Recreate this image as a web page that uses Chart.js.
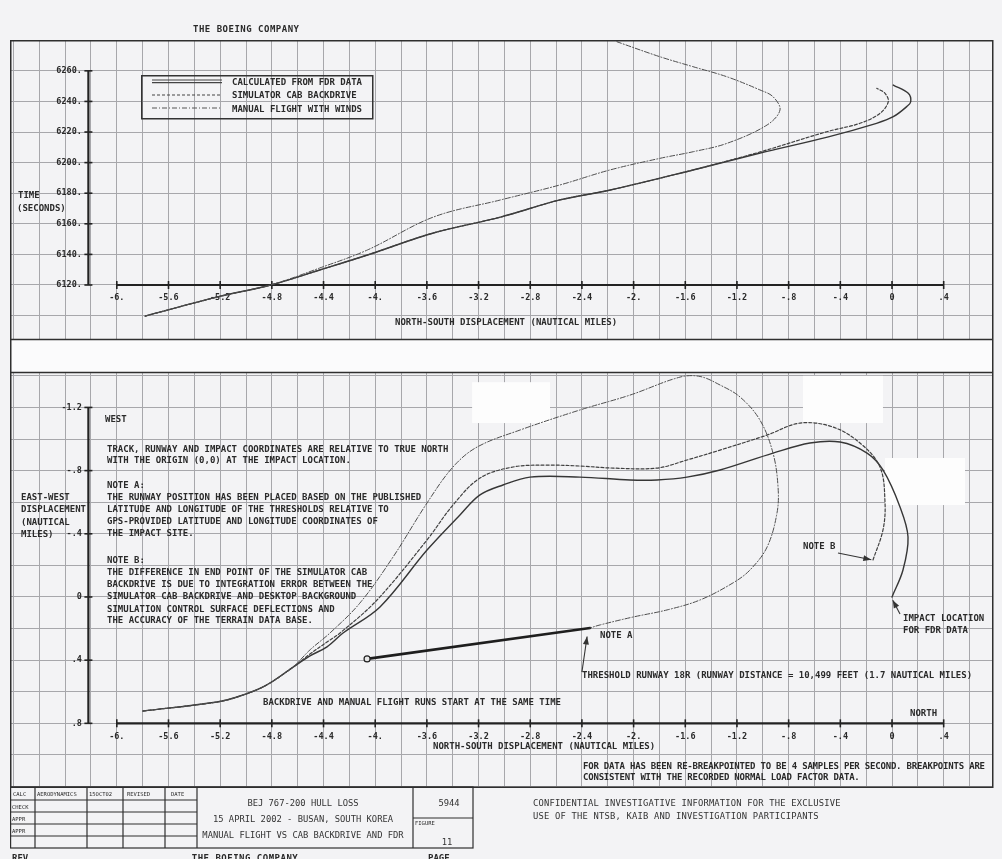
<!DOCTYPE html>
<html><head><meta charset="utf-8">
<script src="https://cdn.jsdelivr.net/npm/chart.js@4.4.1/dist/chart.umd.min.js"></script>
<style>
html,body{margin:0;padding:0;}
body{width:1002px;height:859px;position:relative;background:#f3f3f5;overflow:hidden;}
canvas{position:absolute;}
#ov{position:absolute;left:0;top:0;pointer-events:none;}
#ov text{font-family:"DejaVu Sans Mono","Liberation Mono",monospace;font-size:9px;font-weight:bold;fill:#2a2a2a;}
#ov text.sm{font-size:5.5px;font-weight:normal;}
#ov text.tb{font-weight:normal;font-size:8.8px;fill:#333;}
</style></head>
<body>
<canvas id="cTop" width="981" height="298" style="left:11px;top:41px"></canvas>
<canvas id="cBot" width="981" height="414" style="left:11px;top:373px"></canvas>
<svg id="ov" width="1002" height="859" viewBox="0 0 1002 859">
  <!-- band between the two plots -->
  <rect x="10" y="339" width="983" height="34" fill="#fbfbfc"/>
  <line x1="10" y1="339.5" x2="993" y2="339.5" stroke="#2f2f2f" stroke-width="1.5"/>
  <line x1="10" y1="372.5" x2="993" y2="372.5" stroke="#2f2f2f" stroke-width="1.5"/>
  <!-- frame -->
  <rect x="10.75" y="40.75" width="982" height="746.5" fill="none" stroke="#2f2f2f" stroke-width="1.5"/>
  <!-- legend -->
  <rect x="141.75" y="75.75" width="231" height="43" fill="none" stroke="#333" stroke-width="1.5"/>
  <line x1="152" y1="80" x2="222" y2="80" stroke="#444" stroke-width="1.2"/>
  <line x1="152" y1="82.6" x2="222" y2="82.6" stroke="#444" stroke-width="1.2"/>
  <line x1="152" y1="95" x2="222" y2="95" stroke="#444" stroke-width="1.2" stroke-dasharray="3,2"/>
  <line x1="152" y1="108" x2="222" y2="108" stroke="#555" stroke-width="1" stroke-dasharray="5,2,1,2"/>
  <text x="232" y="84.5">CALCULATED FROM FDR DATA</text>
  <text x="232" y="98.3">SIMULATOR CAB BACKDRIVE</text>
  <text x="232" y="111.5">MANUAL FLIGHT WITH WINDS</text>
  <!-- top texts -->
  <text x="193" y="32.3" letter-spacing="0.5">THE BOEING COMPANY</text>
  <text x="18" y="198.3">TIME</text>
  <text x="17" y="211.3">(SECONDS)</text>
  <text x="395" y="325.3">NORTH-SOUTH DISPLACEMENT (NAUTICAL MILES)</text>
  <!-- bottom texts -->
  <text x="105" y="422.3">WEST</text>
  <text x="107" y="451.6">TRACK, RUNWAY AND IMPACT COORDINATES ARE RELATIVE TO TRUE NORTH</text>
  <text x="107" y="463.3">WITH THE ORIGIN (0,0) AT THE IMPACT LOCATION.</text>
  <text x="107" y="488.3">NOTE A:</text>
  <text x="107" y="500">THE RUNWAY POSITION HAS BEEN PLACED BASED ON THE PUBLISHED</text>
  <text x="107" y="511.6">LATITUDE AND LONGITUDE OF THE THRESHOLDS RELATIVE TO</text>
  <text x="107" y="524">GPS-PROVIDED LATITUDE AND LONGITUDE COORDINATES OF</text>
  <text x="107" y="536">THE IMPACT SITE.</text>
  <text x="107" y="563.3">NOTE B:</text>
  <text x="107" y="575">THE DIFFERENCE IN END POINT OF THE SIMULATOR CAB</text>
  <text x="107" y="586.6">BACKDRIVE IS DUE TO INTEGRATION ERROR BETWEEN THE</text>
  <text x="107" y="599">SIMULATOR CAB BACKDRIVE AND DESKTOP BACKGROUND</text>
  <text x="107" y="611.6">SIMULATION CONTROL SURFACE DEFLECTIONS AND</text>
  <text x="107" y="623.3">THE ACCURACY OF THE TERRAIN DATA BASE.</text>
  <text x="21" y="500.3">EAST-WEST</text>
  <text x="21" y="512.3">DISPLACEMENT</text>
  <text x="21" y="525.3">(NAUTICAL</text>
  <text x="21" y="537.3">MILES)</text>
  <text x="263" y="705.3">BACKDRIVE AND MANUAL FLIGHT RUNS START AT THE SAME TIME</text>
  <text x="600" y="638.3">NOTE A</text>
  <text x="582" y="678.3">THRESHOLD RUNWAY 18R (RUNWAY DISTANCE = 10,499 FEET (1.7 NAUTICAL MILES)</text>
  <text x="803" y="549.3">NOTE B</text>
  <text x="903" y="621.3">IMPACT LOCATION</text>
  <text x="903" y="633.3">FOR FDR DATA</text>
  <text x="910" y="716.3">NORTH</text>
  <text x="433" y="749.3">NORTH-SOUTH DISPLACEMENT (NAUTICAL MILES)</text>
  <text x="583" y="769.3" letter-spacing="-0.2">FOR DATA HAS BEEN RE-BREAKPOINTED TO BE 4 SAMPLES PER SECOND.  BREAKPOINTS ARE</text>
  <text x="583" y="780.3" letter-spacing="-0.2">CONSISTENT WITH THE RECORDED NORMAL LOAD FACTOR DATA.</text>
  <!-- title block -->
  <g stroke="#2f2f2f" stroke-width="1.2" fill="none">
    <rect x="10.6" y="787" width="462.4" height="61"/>
    <line x1="35" y1="787" x2="35" y2="848"/>
    <line x1="87" y1="787" x2="87" y2="848"/>
    <line x1="123" y1="787" x2="123" y2="848"/>
    <line x1="165" y1="787" x2="165" y2="848"/>
    <line x1="197" y1="787" x2="197" y2="848"/>
    <line x1="413" y1="787" x2="413" y2="848"/>
    <line x1="10" y1="800" x2="197" y2="800"/>
    <line x1="10" y1="812" x2="197" y2="812"/>
    <line x1="10" y1="824" x2="197" y2="824"/>
    <line x1="10" y1="836" x2="197" y2="836"/>
    <line x1="413" y1="818" x2="473" y2="818"/>
  </g>
  <text class="sm" x="13" y="796">CALC</text>
  <text class="sm" x="37" y="796">AERODYNAMICS</text>
  <text class="sm" x="89" y="796">15OCT02</text>
  <text class="sm" x="127" y="796">REVISED</text>
  <text class="sm" x="171" y="796">DATE</text>
  <text class="sm" x="12" y="808.5">CHECK</text>
  <text class="sm" x="12" y="820.5">APPR</text>
  <text class="sm" x="12" y="832.5">APPR</text>
  <text class="tb" x="303" y="806" text-anchor="middle">BEJ 767-200 HULL LOSS</text>
  <text class="tb" x="303" y="822" text-anchor="middle">15 APRIL 2002 - BUSAN, SOUTH KOREA</text>
  <text class="tb" x="303" y="838" text-anchor="middle">MANUAL FLIGHT VS CAB BACKDRIVE AND FDR</text>
  <text class="tb" x="449" y="806" text-anchor="middle">5944</text>
  <text class="sm" x="415" y="825">FIGURE</text>
  <text class="tb" x="447" y="845" text-anchor="middle">11</text>
  <text x="12" y="861">REV</text>
  <text x="245" y="861" text-anchor="middle" letter-spacing="0.5">THE BOEING COMPANY</text>
  <text x="428" y="861">PAGE</text>
  <text class="tb" x="533" y="806" letter-spacing="0.2">CONFIDENTIAL INVESTIGATIVE INFORMATION FOR THE EXCLUSIVE</text>
  <text class="tb" x="533" y="819" letter-spacing="0.2">USE OF THE NTSB, KAIB AND INVESTIGATION PARTICIPANTS</text>
</svg>
<script>
// ---------- tick labels ----------
const nsTickValues = [-6,-5.6,-5.2,-4.8,-4.4,-4,-3.6,-3.2,-2.8,-2.4,-2,-1.6,-1.2,-0.8,-0.4,0,0.4];
const nsTickLabels = ['-6.','-5.6','-5.2','-4.8','-4.4','-4.','-3.6','-3.2','-2.8','-2.4','-2.','-1.6','-1.2','-.8','-.4','0','.4'];
const timeTickValues = [6120,6140,6160,6180,6200,6220,6240,6260];
const timeTickLabels = ['6120.','6140.','6160.','6180.','6200.','6220.','6240.','6260.'];
const ewTickValues = [-1.2,-0.8,-0.4,0,0.4,0.8];
const ewTickLabels = ['-1.2','-.8','-.4','0','.4','.8'];

const seriesNames = ['CALCULATED FROM FDR DATA','SIMULATOR CAB BACKDRIVE','MANUAL FLIGHT WITH WINDS','RUNWAY 18R'];

// ---------- top plot: time (s) vs north-south displacement (nm) ----------
const fdrTopNS   = [-5.78,-5.22,-4.81,-4.43,-4.06,-3.55,-3.03,-2.57,-2.18,-1.54,-1.02,-0.50,-0.12,0.01,0.114,0.145,0.126,0.01];
const fdrTopTime = [6099.7,6112.2,6120.0,6129.8,6139.6,6154.0,6164.4,6175.6,6182.1,6195.2,6206.3,6216.7,6225.7,6230.0,6236.6,6239.8,6245.3,6250.7];
const simTopNS   = [-5.78,-5.22,-4.81,-4.43,-4.06,-3.55,-3.03,-2.57,-2.18,-1.54,-1.02,-0.505,-0.248,-0.093,-0.029,-0.054,-0.118];
const simTopTime = [6099.7,6112.2,6120.0,6129.8,6139.6,6154.0,6164.4,6175.6,6182.1,6195.2,6207.0,6220.2,6225.7,6232.2,6239.8,6245.3,6248.6];
const manTopNS   = [-5.78,-5.22,-4.81,-4.43,-4.06,-3.55,-3.03,-2.57,-2.183,-1.796,-1.540,-1.277,-0.967,-0.867,-0.921,-1.022,-1.277,-1.540,-1.796,-2.129];
const manTopTime = [6099.7,6112.2,6120.0,6131.1,6142.9,6164.4,6175.6,6185.4,6195.2,6202.8,6207.1,6212.6,6224.6,6234.4,6243.1,6247.5,6256.1,6262.7,6269.2,6279.0];

// ---------- bottom plot: east-west vs north-south displacement (nm) ----------
const fdrBotNS = [-5.797,-5.224,-5.046,-4.853,-4.644,-4.505,-4.373,-4.249,-3.963,-3.599,-3.344,-3.189,-3.011,-2.802,-2.415,-2.028,-1.819,-1.587,-1.331,-0.921,-0.635,-0.402,-0.193,-0.070,0.062,0.124,0.085,0.0];
const fdrBotEW = [0.722,0.665,0.627,0.563,0.449,0.373,0.316,0.228,0.063,-0.297,-0.519,-0.646,-0.709,-0.759,-0.759,-0.741,-0.741,-0.759,-0.804,-0.911,-0.975,-0.981,-0.911,-0.804,-0.570,-0.380,-0.171,0.0];
const simBotNS = [-5.797,-5.224,-5.046,-4.853,-4.644,-4.505,-4.373,-4.272,-3.986,-3.599,-3.398,-3.189,-2.933,-2.670,-2.415,-2.159,-1.819,-1.587,-1.331,-0.967,-0.712,-0.457,-0.248,-0.093,-0.054,-0.070,-0.147];
const simBotEW = [0.722,0.665,0.627,0.563,0.449,0.361,0.285,0.228,0.019,-0.361,-0.582,-0.753,-0.823,-0.835,-0.829,-0.816,-0.816,-0.867,-0.930,-1.025,-1.101,-1.076,-0.975,-0.823,-0.595,-0.424,-0.234];
const manBotNS = [-5.797,-5.224,-5.046,-4.853,-4.644,-4.505,-4.350,-4.118,-3.862,-3.599,-3.398,-3.212,-2.879,-2.415,-2.028,-1.641,-1.486,-1.331,-1.176,-1.022,-0.921,-0.882,-0.890,-0.967,-1.099,-1.231,-1.486,-1.741,-2.005,-2.260,-2.337];
const manBotEW = [0.722,0.665,0.627,0.563,0.449,0.335,0.228,0.038,-0.253,-0.595,-0.823,-0.949,-1.057,-1.184,-1.278,-1.392,-1.396,-1.342,-1.266,-1.120,-0.911,-0.696,-0.532,-0.316,-0.171,-0.089,0.019,0.082,0.127,0.177,0.196];
const runwayNS = [-4.063,-2.337];
const runwayEW = [0.392,0.196];

// annotation arrows (data units: [ns, ew])
const noteArrows = [
  {from:[-2.40,0.475], to:[-2.36,0.25]},
  {from:[-0.418,-0.278], to:[-0.16,-0.236]},
  {from:[0.062,0.108], to:[0.006,0.02]}
];
// scan blanks (data units: ns0, ns1, ew0, ew1)
const scanBlanks = [[-3.25,-2.647,-1.36,-1.101],[-0.689,-0.07,-1.40,-1.101],[-0.054,0.565,-0.88,-0.582]];

// ---------- helpers ----------
const GRID = '#a7a7ab';
const TICK_FONT = {family:'DejaVu Sans Mono', size:8.5, weight:'bold'};
Chart.defaults.font.family = 'DejaVu Sans Mono';

function gridTicks(min, max, step){
  const out = [];
  for (let k = Math.ceil(min/step - 1e-9); k*step <= max + 1e-9; k++) out.push({value: +(k*step).toFixed(6)});
  return out;
}
function labelFor(vals, labs, v){
  const i = vals.findIndex(a => Math.abs(a - v) < 1e-6);
  return i < 0 ? '' : labs[i];
}
function scaleCfg(min, max, step, pos, tv, tl, pad, reverse){
  return {
    type:'linear', min, max, reverse: !!reverse, position: pos,
    afterBuildTicks: s => { s.ticks = gridTicks(min, max, step); },
    afterFit: s => { s.paddingLeft = 0; s.paddingRight = 0; s.paddingTop = 0; s.paddingBottom = 0; },
    grid: {color: GRID, lineWidth: 1, drawTicks: false},
    border: {display: false},
    ticks: {autoSkip:false, maxRotation:0, minRotation:0, padding: pad, color:'#2a2a2a', font: TICK_FONT,
      callback: v => labelFor(tv, tl, v)}
  };
}
function series(label, ns, vals, style){
  return Object.assign({label, data: ns.map((v,i) => ({x:v, y:vals[i]})), showLine:true, fill:false,
    pointRadius:0, tension:0.35, borderCapStyle:'round', borderJoinStyle:'round'}, style);
}
const STY = {
  fdr: {borderColor:'#363636', borderWidth:1.4},
  sim: {borderColor:'#404040', borderWidth:1.2, borderDash:[3,2]},
  man: {borderColor:'#4e4e4e', borderWidth:1.0, borderDash:[5,2,1,2]}
};
function axesPlugin(cfg){
  return {
    id: 'paperAxes',
    beforeDatasetsDraw(chart){
      const {ctx, scales:{x, y}} = chart;
      ctx.save();
      (cfg.blanks || []).forEach(b => {
        const x0 = x.getPixelForValue(b[0]), x1 = x.getPixelForValue(b[1]);
        const y0 = y.getPixelForValue(b[2]), y1 = y.getPixelForValue(b[3]);
        ctx.fillStyle = '#fdfdfd';
        ctx.fillRect(Math.min(x0,x1), Math.min(y0,y1), Math.abs(x1-x0), Math.abs(y1-y0));
      });
      ctx.strokeStyle = '#222'; ctx.lineCap = 'butt';
      const ln = (a,b,c,d) => { ctx.beginPath(); ctx.moveTo(a,b); ctx.lineTo(c,d); ctx.stroke(); };
      const ya = y.getPixelForValue(cfg.xAxisAt);
      const xa = x.getPixelForValue(cfg.yAxisAt);
      ctx.lineWidth = 2.2;
      ln(x.getPixelForValue(cfg.xFrom), ya, x.getPixelForValue(cfg.xTo), ya);
      ln(xa, y.getPixelForValue(cfg.yFrom), xa, y.getPixelForValue(cfg.yTo));
      ctx.lineWidth = 1.6;
      cfg.xTicks.forEach(v => { const p = x.getPixelForValue(v); ln(p, ya-4, p, ya+4); });
      cfg.yTicks.forEach(v => { const p = y.getPixelForValue(v); ln(xa-4, p, xa+4, p); });
      ctx.restore();
    },
    afterDatasetsDraw(chart){
      const {ctx, scales:{x, y}} = chart;
      ctx.save();
      ctx.strokeStyle = '#333'; ctx.fillStyle = '#333'; ctx.lineWidth = 1.1;
      (cfg.arrows || []).forEach(a => {
        const x0 = x.getPixelForValue(a.from[0]), y0 = y.getPixelForValue(a.from[1]);
        const x1 = x.getPixelForValue(a.to[0]), y1 = y.getPixelForValue(a.to[1]);
        ctx.beginPath(); ctx.moveTo(x0,y0); ctx.lineTo(x1,y1); ctx.stroke();
        const ang = Math.atan2(y1-y0, x1-x0), L = 8, W = 3;
        ctx.beginPath(); ctx.moveTo(x1,y1);
        ctx.lineTo(x1 - L*Math.cos(ang) + W*Math.sin(ang), y1 - L*Math.sin(ang) - W*Math.cos(ang));
        ctx.lineTo(x1 - L*Math.cos(ang) - W*Math.sin(ang), y1 - L*Math.sin(ang) + W*Math.cos(ang));
        ctx.closePath(); ctx.fill();
      });
      ctx.restore();
    }
  };
}
const baseOpts = {
  responsive:false, maintainAspectRatio:false, animation:false, events:[],
  layout:{padding:0, autoPadding:false},
  plugins:{legend:{display:false}, tooltip:{enabled:false}, title:{display:false}}
};

// ---------- top chart ----------
new Chart(document.getElementById('cTop'), {
  type:'scatter',
  data:{datasets:[
    series(seriesNames[2], manTopNS, manTopTime, STY.man),
    series(seriesNames[1], simTopNS, simTopTime, STY.sim),
    series(seriesNames[0], fdrTopNS, fdrTopTime, STY.fdr)
  ]},
  options: Object.assign({}, baseOpts, {
    scales:{
      x: scaleCfg(-6.819, 0.774, 0.2, {y:6120}, nsTickValues, nsTickLabels, 8),
      y: scaleCfg(6084.7, 6279.5, 20, {x:-6.27}, timeTickValues, timeTickLabels, 0)
    }
  }),
  plugins:[axesPlugin({xAxisAt:6120, yAxisAt:-6.22, xFrom:-6, xTo:0.4, yFrom:6120, yTo:6260,
    xTicks:nsTickValues, yTicks:timeTickValues})]
});

// ---------- bottom chart ----------
new Chart(document.getElementById('cBot'), {
  type:'scatter',
  data:{datasets:[
    series(seriesNames[2], manBotNS, manBotEW, STY.man),
    series(seriesNames[1], simBotNS, simBotEW, STY.sim),
    series(seriesNames[0], fdrBotNS, fdrBotEW, STY.fdr),
    Object.assign(series(seriesNames[3], runwayNS, runwayEW, {borderColor:'#1e1e1e', borderWidth:2.6}), {
      tension:0, pointRadius:[3,0], pointBackgroundColor:'#e8e8e8', pointBorderColor:'#222', pointBorderWidth:1.2
    })
  ]},
  options: Object.assign({}, baseOpts, {
    scales:{
      x: scaleCfg(-6.819, 0.774, 0.2, {y:0.8}, nsTickValues, nsTickLabels, 8),
      y: scaleCfg(-1.418, 1.203, 0.2, {x:-6.27}, ewTickValues, ewTickLabels, 0, true)
    }
  }),
  plugins:[axesPlugin({xAxisAt:0.8, yAxisAt:-6.22, xFrom:-6, xTo:0.4, yFrom:-1.2, yTo:0.8,
    xTicks:nsTickValues, yTicks:ewTickValues, arrows:noteArrows, blanks:scanBlanks})]
});
</script>
</body></html>
